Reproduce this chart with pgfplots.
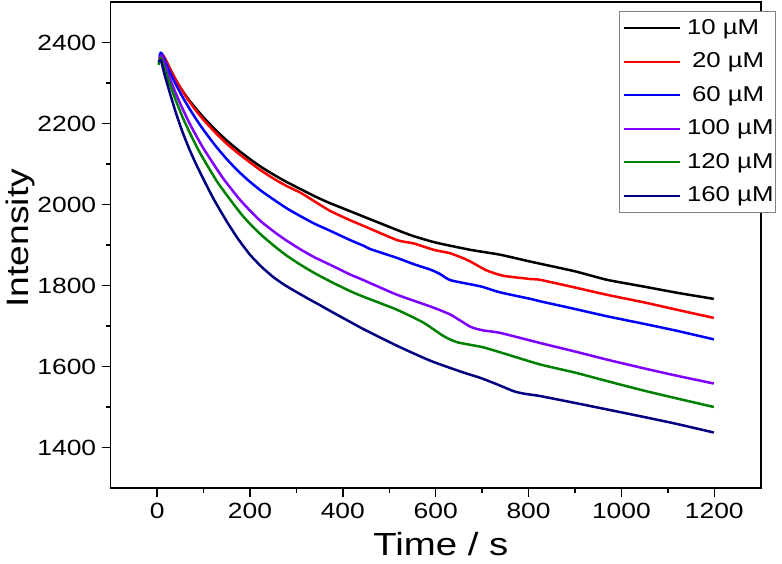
\documentclass[border=0pt]{standalone}
\usepackage{pgfplots}
\pgfplotsset{compat=1.18}
\usepackage{fontspec}
\setmainfont{Liberation Sans}[FakeStretch=1.2]
\definecolor{cviolet}{HTML}{8000FF}
\definecolor{cgreen}{HTML}{008000}
\definecolor{cnavy}{HTML}{000080}
\begin{document}
\begin{tikzpicture}
\useasboundingbox (-110.7pt,-75pt) rectangle (671.3pt,488pt);
\begin{axis}[
  scale only axis,
  width=650pt, height=486pt,
  xmin=-100, xmax=1300, ymin=1300, ymax=2500,
  xtick={0,200,...,1200}, ytick={1400,1600,...,2400},
  minor x tick num=1, minor y tick num=1,
  xtick pos=left, ytick pos=left,
  tick align=outside,
  major tick length=9pt, minor tick length=5pt,
  axis line style={line width=1.6pt},
  every tick/.style={line width=1.4pt, black},
  /pgf/number format/assume math mode=true,
  /pgf/number format/set thousands separator={},
  ticklabel style={font=\fontsize{22}{22}\selectfont},
  xticklabel style={yshift=-3pt},
  yticklabel style={xshift=-2pt},
  xlabel={Time / s},
  ylabel={Intensity},
  xlabel style={font=\fontsize{32}{32}\selectfont, at={(axis description cs:0.508,0)}, anchor=base, yshift=-67pt},
  ylabel style={font=\fontsize{31}{31}\selectfont, at={(axis description cs:0,0.514)}, anchor=base, yshift=82pt},
  legend style={at={(1.0235,0.9815)}, anchor=north east, draw=gray, line width=0.8pt,
    inner xsep=0pt, inner ysep=4pt, row sep=7.5pt,
    font=\fontsize{21.5}{21.5}\selectfont,
    nodes={inner sep=2pt, text height=17pt, text depth=5pt}},
  legend cell align=left,
  legend image code/.code={\path[draw=none, fill=none] (0pt,-2pt) rectangle (66pt,2pt); \draw[#1, line width=2pt] (5pt,0pt) -- (61pt,0pt);},
  every axis plot/.append style={line width=2.5pt, line join=round, smooth, tension=0.35},
]
\addplot[black] coordinates {(5,2358)(10,2372)(18,2357)(28,2334)(40,2308)(55,2280)(70,2256)(85,2235)(100,2215)(125,2185)(150,2158)(175,2134)(200,2112)(225,2092)(255,2071)(280,2055)(309,2038)(340,2020)(373,2003)(445,1970)(517,1937)(552,1922)(600,1906)(675,1888)(739,1876)(804,1859)(900,1835)(969,1814)(1050,1797)(1120,1782)(1199,1767)};
\addlegendentry{10 µM}
\addplot[red] coordinates {(5,2360)(10,2372)(18,2358)(28,2335)(40,2308)(55,2279)(70,2253)(85,2230)(100,2209)(125,2178)(150,2150)(175,2126)(200,2104)(225,2083)(255,2061)(280,2045)(309,2029)(340,2007)(373,1984)(416,1961)(445,1947)(517,1912)(552,1904)(596,1888)(630,1880)(660,1867)(675,1859)(710,1837)(746,1824)(804,1816)(825,1814)(900,1795)(969,1777)(1050,1758)(1120,1740)(1199,1720)};
\addlegendentry{\hspace{5pt}20 µM}
\addplot[blue] coordinates {(5,2365)(8,2375)(15,2360)(25,2333)(40,2297)(55,2265)(70,2236)(85,2209)(100,2184)(125,2146)(150,2112)(175,2082)(200,2056)(225,2033)(255,2009)(280,1990)(309,1971)(340,1952)(373,1935)(416,1912)(445,1898)(459,1890)(517,1868)(552,1853)(589,1839)(610,1828)(632,1813)(696,1798)(739,1783)(804,1767)(825,1761)(900,1742)(969,1724)(1050,1705)(1120,1688)(1199,1667)};
\addlegendentry{\hspace{5pt}60 µM}
\addplot[cviolet] coordinates {(5,2360)(10,2368)(18,2342)(28,2310)(40,2275)(55,2236)(70,2200)(85,2168)(100,2138)(140,2068)(176,2015)(200,1985)(225,1957)(255,1930)(280,1910)(309,1889)(340,1869)(373,1851)(416,1827)(445,1813)(517,1777)(589,1748)(632,1728)(675,1698)(703,1689)(739,1683)(825,1658)(900,1637)(969,1617)(1050,1595)(1120,1577)(1199,1558)};
\addlegendentry{100 µM}
\addplot[cgreen] coordinates {(3,2345)(8,2362)(15,2340)(25,2305)(40,2258)(55,2215)(70,2178)(85,2143)(100,2112)(130,2055)(158,2011)(180,1978)(200,1952)(225,1924)(255,1895)(280,1873)(309,1851)(340,1830)(373,1810)(416,1786)(445,1772)(517,1740)(574,1708)(617,1675)(646,1660)(700,1648)(739,1635)(825,1605)(900,1585)(969,1564)(1050,1540)(1120,1521)(1199,1500)};
\addlegendentry{120 µM}
\addplot[cnavy] coordinates {(3,2352)(8,2357)(15,2325)(25,2285)(40,2228)(55,2178)(70,2135)(85,2097)(100,2062)(122,2013)(150,1958)(175,1914)(200,1876)(225,1846)(250,1821)(275,1801)(300,1784)(326,1767)(350,1752)(373,1737)(416,1710)(445,1692)(517,1651)(589,1614)(660,1585)(696,1572)(732,1556)(768,1539)(790,1533)(825,1527)(900,1510)(969,1494)(1050,1475)(1120,1458)(1199,1437)};
\addlegendentry{160 µM}
\end{axis}
\end{tikzpicture}
\end{document}
